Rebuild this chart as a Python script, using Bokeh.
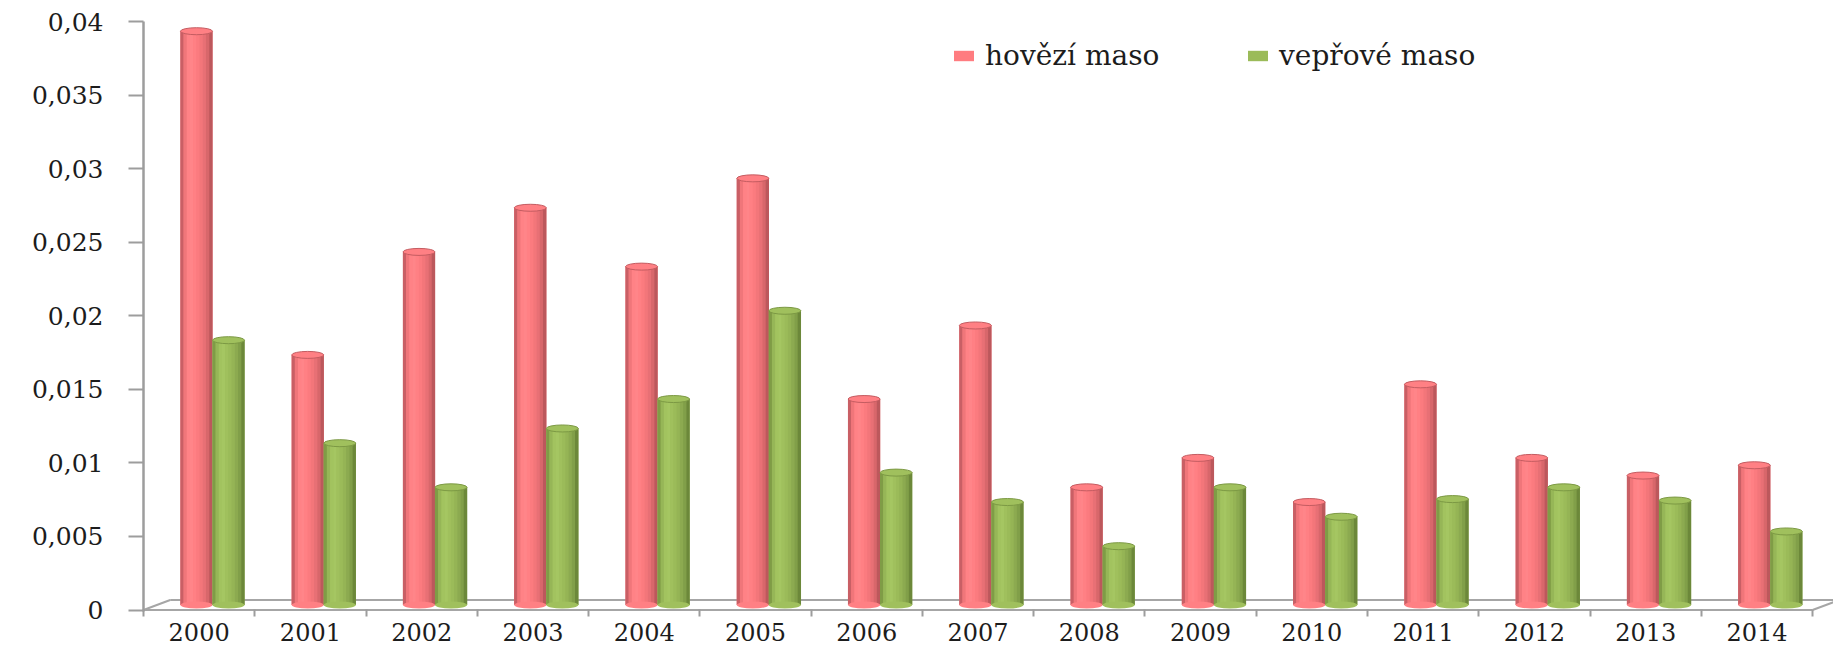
import numpy as np
from bokeh.plotting import figure
from bokeh.models import Range1d, FixedTicker, Legend, LegendItem
from bokeh.embed import file_html
from bokeh.resources import INLINE

# ---- data -------------------------------------------------------------
years = ["2000", "2001", "2002", "2003", "2004", "2005", "2006", "2007",
         "2008", "2009", "2010", "2011", "2012", "2013", "2014"]
beef = [0.039, 0.017, 0.024, 0.027, 0.023, 0.029, 0.014, 0.019,
        0.008, 0.010, 0.007, 0.015, 0.010, 0.0088, 0.0095]
pork = [0.018, 0.011, 0.008, 0.012, 0.014, 0.020, 0.009, 0.007,
        0.004, 0.008, 0.006, 0.0072, 0.008, 0.0071, 0.005]
series_names = ["hovězí maso", "vepřové maso"]
y_ticks = [0, 0.005, 0.01, 0.015, 0.02, 0.025, 0.03, 0.035, 0.04]
y_tick_labels = ["0", "0,005", "0,01", "0,015", "0,02", "0,025", "0,03", "0,035", "0,04"]

# ---- layout constants ---------------------------------------------------
FONT = "DejaVu Serif"
TEXT_COLOR = "#1c1c1c"
AXIS_COLOR = "#9d9d9d"
N = len(years)
X_END = 15.188          # frame runs a little past the last category (floor depth)
Y_START = -0.0001
DEPTH_X = 0.24          # 3-D floor depth, horizontal part (category units)
DEPTH_Y = 0.00068       # 3-D floor depth, vertical part (value units)
BAR_W = 0.288

idx = np.arange(N)
centers = idx + 0.5
pair_c = centers + DEPTH_X / 2
red_x = pair_c - BAR_W / 2
green_x = pair_c + BAR_W / 2
base = DEPTH_Y / 2
beef_top = np.array(beef) + base
pork_top = np.array(pork) + base

p = figure(width=1833, height=646,
           x_range=Range1d(0, X_END), y_range=Range1d(Y_START, 0.04),
           output_backend="svg", toolbar_location=None,
           min_border_left=143, min_border_right=0,
           min_border_top=21, min_border_bottom=35)
p.grid.visible = False
p.outline_line_color = None
p.background_fill_color = "white"
p.border_fill_color = "white"

# ---- 3-D floor ----------------------------------------------------------
floor_col = "#a6a6a6"
p.segment(x0=[0], y0=[0], x1=[N], y1=[0], line_color=floor_col, line_width=2)
p.segment(x0=[DEPTH_X], y0=[DEPTH_Y], x1=[N + DEPTH_X], y1=[DEPTH_Y],
          line_color=floor_col, line_width=2)
p.segment(x0=[0, N], y0=[0, 0], x1=[DEPTH_X, N + DEPTH_X], y1=[DEPTH_Y, DEPTH_Y],
          line_color=floor_col, line_width=2)

# ---- cylinders ------------------------------------------------------------
red_main, green_main = "#FF7C80", "#9BBB59"
red_shades = ["#C95F65", "#F0767A", "#FF8286", "#FF8589", "#FF8084",
              "#FB7B7F", "#F3767A", "#E87075", "#D8676B", "#BC585C"]
green_shades = ["#7F9C46", "#96B657", "#A2C35F", "#A5C662", "#A0C05D",
                "#9BBB59", "#95B455", "#8CAA50", "#819F49", "#6C883A"]
NS = len(red_shades)
strip_w = BAR_W / NS


def cylinder(xc, top, main, shades, rim):
    r = p.vbar(x=xc, top=top, bottom=base, width=BAR_W,
               fill_color=main, line_color=None)
    for k, col in enumerate(shades):
        off = -BAR_W / 2 + (k + 0.5) * strip_w
        p.vbar(x=xc + off, top=top, bottom=base, width=strip_w * 1.08,
               fill_color=col, line_color=None)
    p.ellipse(x=xc, y=np.full(N, base), width=32, height=7,
              width_units="screen", height_units="screen",
              fill_color=shades[4], line_color=None)
    p.ellipse(x=xc, y=top, width=32, height=7,
              width_units="screen", height_units="screen",
              fill_color=shades[4], line_color=rim, line_width=1)
    return r


r_beef = cylinder(red_x, beef_top, red_main, red_shades, "#C45C61")
r_pork = cylinder(green_x, pork_top, green_main, green_shades, "#7C9944")

# ---- axes -----------------------------------------------------------------
xa = p.xaxis[0]
xa.ticker = FixedTicker(ticks=list(centers), minor_ticks=list(range(N + 1)))
xa.major_label_overrides = {float(c): y for c, y in zip(centers, years)}
xa.axis_line_color = None
xa.major_tick_line_color = None
xa.major_tick_in = 0
xa.major_tick_out = 0
xa.minor_tick_line_color = AXIS_COLOR
xa.minor_tick_line_width = 2
xa.minor_tick_in = 2
xa.minor_tick_out = 5
xa.major_label_standoff = 6
xa.major_label_text_font = FONT
xa.major_label_text_font_size = "24px"
xa.major_label_text_color = TEXT_COLOR

ya = p.yaxis[0]
ya.ticker = FixedTicker(ticks=y_ticks, minor_ticks=[])
ya.major_label_overrides = {float(t): s for t, s in zip(y_ticks, y_tick_labels)}
ya.axis_line_color = AXIS_COLOR
ya.axis_line_width = 2.5
ya.major_tick_line_color = AXIS_COLOR
ya.major_tick_line_width = 2
ya.major_tick_in = 0
ya.major_tick_out = 15
ya.minor_tick_line_color = None
ya.major_label_standoff = 25
ya.major_label_text_font = FONT
ya.major_label_text_font_size = "25px"
ya.major_label_text_color = TEXT_COLOR

# ---- legend ---------------------------------------------------------------
for name, rend, loc in [(series_names[0], r_beef, (808, 539)),
                        (series_names[1], r_pork, (1102, 539))]:
    leg = Legend(items=[LegendItem(label=name, renderers=[rend])],
                 location=loc, orientation="horizontal",
                 padding=0, margin=0, spacing=0,
                 glyph_width=25, glyph_height=13, label_standoff=9,
                 border_line_color=None, background_fill_alpha=0,
                 label_text_font=FONT, label_text_font_size="28px",
                 label_text_color=TEXT_COLOR)
    p.add_layout(leg, "center")

open("out.html", "w").write(file_html(p, INLINE))
